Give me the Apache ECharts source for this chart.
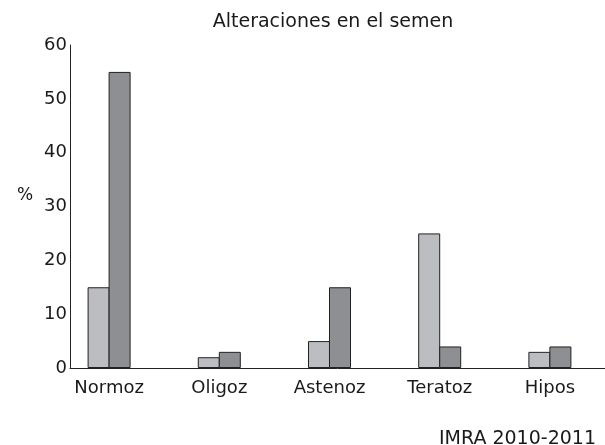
<!DOCTYPE html>
<html>
	<head>
		<meta charset="utf-8" />
		<title>Alteraciones en el semen</title>
		<script src="https://cdn.jsdelivr.net/npm/echarts@6/dist/echarts.min.js"></script>
		<style>
			body { margin: 0; background: #fff; }
			#chart { width: 605px; height: 445px; }
		</style>
	</head>
	<body>
		<div id="chart"></div>
		<script>
			// datos
			var categorias = ['Normoz', 'Oligoz', 'Astenoz', 'Teratoz', 'Hipos'];
			var serieClara = [15, 2, 5, 25, 3];
			var serieOscura = [55, 3, 15, 4, 4];
			var yMin = 0, yMax = 60, yPaso = 10;

			var fuente = '"DejaVu Sans", Arial, sans-serif';
			var chart = echarts.init(document.getElementById('chart'));

			var option = {
				animation: false,
				textStyle: { fontFamily: fuente },
				title: [{
					text: 'Alteraciones en el semen',
					left: 328, top: 8, textAlign: 'center',
					textStyle: { fontFamily: fuente, fontSize: 19, fontWeight: 'normal', color: '#1a1a1a' }
				}, {
					text: '%',
					left: 12, top: 182,
					textStyle: { fontFamily: fuente, fontSize: 17, fontWeight: 'normal', color: '#1a1a1a' }
				}, {
					text: 'IMRA 2010-2011',
					right: 4, top: 425,
					textStyle: { fontFamily: fuente, fontSize: 19, fontWeight: 'normal', color: '#1a1a1a' }
				}],
				grid: [
					// barras
					{ left: 54, width: 552, top: 45, bottom: 77 },
					// ejes
					{ left: 70, right: 0, top: 45, bottom: 77 }
				],
				xAxis: [{
					gridIndex: 0,
					type: 'category',
					data: categorias,
					axisLine: { show: false },
					axisTick: { show: false },
					axisLabel: { fontFamily: fuente, fontSize: 18, color: '#1a1a1a', margin: 11 }
				}, {
					gridIndex: 1,
					type: 'value',
					min: 0, max: 1,
					axisLine: { show: true, lineStyle: { color: '#222', width: 1 } },
					axisTick: { show: false },
					axisLabel: { show: false },
					splitLine: { show: false }
				}],
				yAxis: [{
					gridIndex: 0,
					type: 'value',
					min: yMin, max: yMax, interval: yPaso,
					show: false
				}, {
					gridIndex: 1,
					type: 'value',
					min: yMin, max: yMax, interval: yPaso,
					axisLine: { show: true, lineStyle: { color: '#222', width: 1 } },
					axisTick: { show: false },
					splitLine: { show: false },
					axisLabel: { fontFamily: fuente, fontSize: 18, color: '#1a1a1a', margin: 3 }
				}],
				series: [{
					type: 'bar',
					xAxisIndex: 0, yAxisIndex: 0,
					data: serieClara,
					barWidth: 22,
					barGap: '-4.5%',
					itemStyle: { color: '#bcbdc1', borderColor: '#222', borderWidth: 1 }
				}, {
					type: 'bar',
					xAxisIndex: 0, yAxisIndex: 0,
					data: serieOscura,
					barWidth: 22,
					barGap: '-4.5%',
					itemStyle: { color: '#8e8f93', borderColor: '#222', borderWidth: 1 }
				}]
			};

			chart.setOption(option);
		</script>
	</body>
</html>
